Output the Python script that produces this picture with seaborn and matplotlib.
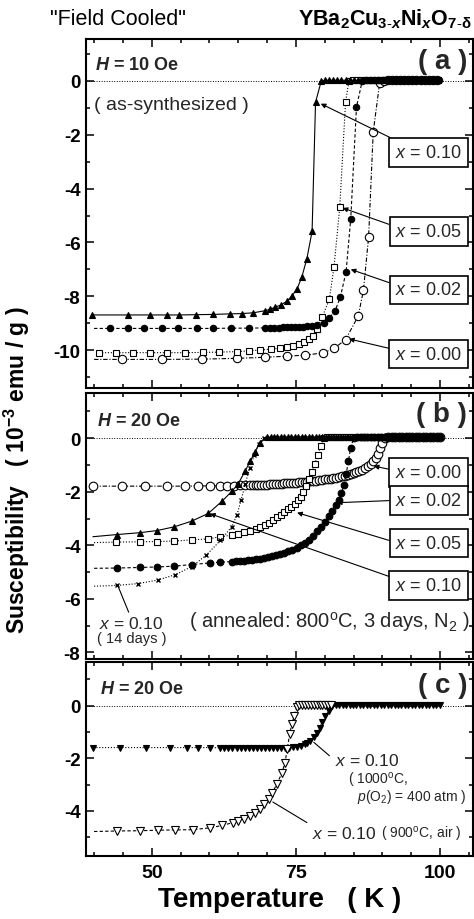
import matplotlib
matplotlib.use("Agg")
import matplotlib.pyplot as plt
import seaborn as sns
from matplotlib.ticker import MultipleLocator

# ---------------- data ----------------
# panel (a): as-synthesized, H = 10 Oe
A10_T = [39.6, 45.8, 49.7, 52.7, 54.8, 57.7, 60.6, 63.6, 65.6, 67.6,
         69.7, 70.5, 71.4, 72.4, 73.5, 74.3, 75.2, 76.0, 76.9, 77.8,
         78.4, 79.4,
         80.1, 80.8, 81.5, 82.2, 82.9, 83.6, 84.3, 85.0, 85.7, 86.4,
         87.1, 87.8, 88.5, 89.2, 89.9, 90.6, 91.3, 92.0, 92.7, 93.4,
         94.1, 94.8, 95.5, 96.2, 96.9, 97.6, 98.3, 99.0, 99.7]
A10_CHI = [-8.69, -8.69, -8.69, -8.69, -8.69, -8.68, -8.67, -8.65, -8.64, -8.61,
           -8.53, -8.48, -8.40, -8.32, -8.17, -7.98, -7.72, -7.30, -6.60, -5.59,
           -0.80, 0.00,
           0.02, 0.02, 0.02, 0.02, 0.02, 0.02, 0.02, 0.02, 0.02, 0.02,
           0.02, 0.02, 0.02, 0.02, 0.02, 0.02, 0.02, 0.02, 0.02, 0.02,
           0.02, 0.02, 0.02, 0.02, 0.02, 0.02, 0.02, 0.02, 0.02]

A05_T = [40.9, 43.8, 46.8, 49.7, 52.7, 55.8, 58.9, 61.7, 64.8, 66.8,
         68.8, 70.7, 72.2, 73.4, 74.5, 75.5, 76.4, 77.2, 78.0, 78.7,
         79.6, 80.8, 81.6, 82.6, 83.6, 84.2,
         84.9, 85.6, 86.3, 87.0, 87.7, 88.4, 89.1, 89.8, 90.5, 91.2,
         91.9, 92.6, 93.3, 94.0, 94.7, 95.4, 96.1, 96.8, 97.5, 98.2,
         98.9, 99.6]
A05_CHI = [-10.09, -10.09, -10.09, -10.09, -10.09, -10.09, -10.08, -10.07, -10.05, -10.02,
           -9.99, -9.96, -9.92, -9.88, -9.83, -9.77, -9.69, -9.60, -9.46, -9.22,
           -8.75, -8.10, -6.91, -4.68, -0.80, 0.00,
           0.02, 0.02, 0.02, 0.02, 0.02, 0.02, 0.02, 0.02, 0.02, 0.02,
           0.02, 0.02, 0.02, 0.02, 0.02, 0.02, 0.02, 0.02, 0.02, 0.02,
           0.02, 0.02]

A02_T = [40.0, 42.7, 45.8, 48.7, 51.7, 54.6, 57.8, 60.7, 63.7, 66.8,
         69.7, 70.5, 71.2, 72.0, 72.7, 73.4, 74.1, 74.8, 75.5, 76.2,
         77.0, 77.8, 78.7, 79.8, 80.8, 81.8, 82.7, 83.7, 84.5, 85.5,
         86.5,
         87.2, 87.9, 88.6, 89.3, 90.0, 90.7, 91.4, 92.1, 92.8, 93.5,
         94.2, 94.9, 95.6, 96.3, 97.0, 97.7, 98.4, 99.1, 99.8]
A02_CHI = [-9.19, -9.19, -9.19, -9.19, -9.19, -9.19, -9.19, -9.19, -9.18, -9.18,
           -9.17, -9.17, -9.16, -9.16, -9.15, -9.15, -9.14, -9.14, -9.13, -9.12,
           -9.11, -9.10, -9.08, -9.00, -8.81, -8.53, -8.03, -7.08, -5.13, -0.97,
           0.00,
           0.02, 0.02, 0.02, 0.02, 0.02, 0.02, 0.02, 0.02, 0.02, 0.02,
           0.02, 0.02, 0.02, 0.02, 0.02, 0.02, 0.02, 0.02, 0.02]

A00_T = [40.0, 44.8, 51.7, 58.7, 64.8, 69.7, 73.5, 76.6, 79.7, 81.6,
         83.6, 85.8, 86.7, 87.6, 88.4, 89.5, 90.3,
         91.0, 91.7, 92.4, 93.1, 93.8, 94.5, 95.2, 95.9, 96.6, 97.3,
         98.0, 98.7, 99.4]
A00_CHI = [-10.34, -10.34, -10.34, -10.33, -10.30, -10.26, -10.22, -10.18, -10.10, -9.93,
           -9.61, -8.73, -7.78, -5.80, -1.90, -0.10, 0.00,
           0.02, 0.02, 0.02, 0.02, 0.02, 0.02, 0.02, 0.02, 0.02, 0.02,
           0.02, 0.02, 0.02]

# panel (b): annealed 800 C, 3 days, N2, H = 20 Oe
B00_T = [39.9, 44.8, 48.8, 52.6, 55.8, 58.1, 60.1, 61.9, 63.0, 64.2,
         65.3, 66.2, 67.0, 67.5, 68.0, 68.5, 69.0, 69.5, 70.0, 70.5,
         71.0, 71.5, 72.0, 72.5, 73.0, 73.5, 74.0, 74.5, 75.0, 75.5,
         76.0, 76.5, 77.0, 77.5, 78.0, 78.5, 79.0, 79.5, 80.0, 80.5,
         81.0, 81.5, 82.0, 82.5, 83.0, 83.5, 84.0, 84.5, 85.0, 85.5,
         86.0, 86.5, 87.0, 87.5, 88.0, 88.4, 88.8, 89.2, 89.6, 90.0,
         90.4,
         91.0, 91.6, 92.2, 92.8, 93.4, 94.0, 94.6, 95.2, 95.8, 96.4,
         97.0, 97.6, 98.2, 98.8, 99.4, 100.0]
B00_CHI = [-1.79, -1.79, -1.79, -1.79, -1.79, -1.78, -1.78, -1.78, -1.77, -1.77,
           -1.76, -1.76, -1.75, -1.75, -1.75, -1.74, -1.74, -1.73, -1.73, -1.72,
           -1.72, -1.71, -1.71, -1.70, -1.69, -1.68, -1.68, -1.67, -1.66, -1.65,
           -1.64, -1.63, -1.62, -1.61, -1.60, -1.59, -1.57, -1.56, -1.54, -1.53,
           -1.51, -1.49, -1.47, -1.45, -1.42, -1.40, -1.37, -1.34, -1.31, -1.27,
           -1.23, -1.18, -1.12, -1.05, -0.96, -0.86, -0.74, -0.58, -0.38, -0.16,
           0.00,
           0.04, 0.04, 0.04, 0.04, 0.04, 0.04, 0.04, 0.04, 0.04, 0.04,
           0.04, 0.04, 0.04, 0.04, 0.04, 0.04]

B05_T = [40.0, 43.8, 47.9, 50.9, 53.9, 56.9, 59.8, 61.9, 63.9, 65.0,
         66.0, 67.0, 68.0, 68.8, 69.6, 70.3, 71.0, 71.7, 72.4, 73.0,
         73.6, 74.2, 74.8, 75.3, 75.8, 76.3, 76.8, 77.3, 77.8, 78.3,
         78.8, 79.3, 79.8,
         80.4, 81.0, 81.6, 82.2, 82.8, 83.4, 84.0, 84.6, 85.2, 85.8,
         86.4, 87.0, 87.6, 88.2, 88.8, 89.4, 90.0, 90.6, 91.2, 91.8,
         92.4, 93.0, 93.6, 94.2, 94.8, 95.4, 96.0, 96.6, 97.2, 97.8,
         98.4, 99.0, 99.6]
B05_CHI = [-3.90, -3.88, -3.87, -3.86, -3.84, -3.80, -3.76, -3.68, -3.62, -3.57,
           -3.52, -3.46, -3.40, -3.33, -3.25, -3.15, -3.06, -2.96, -2.86, -2.76,
           -2.66, -2.56, -2.44, -2.32, -2.18, -2.00, -1.78, -1.52, -1.25, -0.95,
           -0.62, -0.28, 0.00,
           0.04, 0.04, 0.04, 0.04, 0.04, 0.04, 0.04, 0.04, 0.04, 0.04,
           0.04, 0.04, 0.04, 0.04, 0.04, 0.04, 0.04, 0.04, 0.04, 0.04,
           0.04, 0.04, 0.04, 0.04, 0.04, 0.04, 0.04, 0.04, 0.04, 0.04,
           0.04, 0.04, 0.04]

B02_T = [40.0, 43.9, 47.9, 50.9, 53.9, 56.9, 60.1, 61.9, 63.9, 64.6,
         65.3, 66.0, 66.7, 67.4, 68.1, 68.8, 69.5, 70.2, 70.9, 71.6,
         72.3, 73.0, 73.7, 74.4, 75.1, 75.8, 76.5, 77.2, 77.9, 78.6,
         79.3, 80.0, 80.7, 81.3, 81.9, 82.4, 82.9, 83.3, 83.7, 84.1,
         84.5, 85.0,
         85.6, 86.2, 86.8, 87.4, 88.0, 88.6, 89.2, 89.8, 90.4, 91.0,
         91.6, 92.2, 92.8, 93.4, 94.0, 94.6, 95.2, 95.8, 96.4, 97.0,
         97.6, 98.2, 98.8, 99.4, 100.0]
B02_CHI = [-4.86, -4.85, -4.83, -4.81, -4.78, -4.72, -4.66, -4.63, -4.61, -4.60,
           -4.59, -4.57, -4.56, -4.54, -4.52, -4.50, -4.47, -4.44, -4.41, -4.37,
           -4.33, -4.28, -4.22, -4.16, -4.09, -4.00, -3.91, -3.80, -3.64, -3.48,
           -3.32, -3.12, -2.92, -2.72, -2.50, -2.30, -2.05, -1.75, -1.35, -0.85,
           -0.35, 0.00,
           0.04, 0.04, 0.04, 0.04, 0.04, 0.04, 0.04, 0.04, 0.04, 0.04,
           0.04, 0.04, 0.04, 0.04, 0.04, 0.04, 0.04, 0.04, 0.04, 0.04,
           0.04, 0.04, 0.04, 0.04, 0.04]

B10_T = [39.8, 43.9, 47.9, 50.9, 53.9, 56.9, 59.8, 62.2, 63.9, 65.0,
         66.2, 67.1, 67.9, 68.8, 70.0,
         70.6, 71.2, 71.8, 72.4, 73.0, 73.6, 74.2, 74.8, 75.4, 76.0,
         76.6, 77.2, 77.8, 78.4, 79.0, 79.6, 80.2, 80.8, 81.4, 82.0,
         82.6, 83.2, 83.8, 84.4, 85.0, 85.6, 86.2, 86.8, 87.4, 88.0,
         88.6, 89.2, 89.8, 90.4, 91.0, 91.6, 92.2, 92.8, 93.4, 94.0,
         94.6, 95.2, 95.8, 96.4, 97.0, 97.6, 98.2, 98.8, 99.4, 100.0]
B10_CHI = [-3.68, -3.60, -3.53, -3.45, -3.31, -3.10, -2.81, -2.35, -1.98, -1.70,
           -1.22, -0.85, -0.50, -0.16, 0.03,
           0.05, 0.05, 0.05, 0.05, 0.05, 0.05, 0.05, 0.05, 0.05, 0.05,
           0.05, 0.05, 0.05, 0.05, 0.05, 0.05, 0.05, 0.05, 0.05, 0.05,
           0.05, 0.05, 0.05, 0.05, 0.05, 0.05, 0.05, 0.05, 0.05, 0.05,
           0.05, 0.05, 0.05, 0.05, 0.05, 0.05, 0.05, 0.05, 0.05, 0.05,
           0.05, 0.05, 0.05, 0.05, 0.05, 0.05, 0.05, 0.05, 0.05, 0.05]

B14_T = [40.0, 43.9, 47.7, 51.0, 54.1, 56.9, 59.4, 61.9, 63.9, 64.8,
         65.5, 66.2, 67.0, 67.8, 68.6, 69.4]
B14_CHI = [-5.53, -5.50, -5.43, -5.30, -5.10, -4.80, -4.38, -3.82, -3.30, -2.85,
           -2.30, -1.72, -1.10, -0.62, -0.20, 0.00]

# panel (c): x = 0.10, different anneals, H = 20 Oe
C1000_T = [39.9, 44.5, 49.0, 53.2, 56.1, 58.1, 60.1, 61.9, 62.6, 63.3,
           64.0, 64.7, 65.4, 66.1, 66.8, 67.5, 68.2, 68.9, 69.6, 70.3,
           71.0, 71.7, 72.4, 73.1, 73.8, 74.5, 75.2, 75.8, 76.5, 77.0,
           77.5, 78.1, 78.6, 79.1, 79.5, 80.1, 80.7, 81.3,
           81.9, 82.5, 83.1, 83.7, 84.3, 84.9, 85.5, 86.1, 86.7, 87.3,
           87.9, 88.5, 89.1, 89.7, 90.3, 90.9, 91.5, 92.1, 92.7, 93.3,
           93.9, 94.5, 95.1, 95.7, 96.3, 96.9, 97.5, 98.1, 98.7, 99.3,
           99.9]
C1000_CHI = [-1.59, -1.59, -1.59, -1.59, -1.59, -1.59, -1.59, -1.60, -1.60, -1.60,
             -1.60, -1.60, -1.60, -1.60, -1.60, -1.60, -1.60, -1.60, -1.60, -1.60,
             -1.60, -1.60, -1.60, -1.60, -1.59, -1.58, -1.56, -1.53, -1.47, -1.41,
             -1.33, -1.20, -1.03, -0.85, -0.63, -0.38, -0.19, 0.00,
             0.03, 0.03, 0.03, 0.03, 0.03, 0.03, 0.03, 0.03, 0.03, 0.03,
             0.03, 0.03, 0.03, 0.03, 0.03, 0.03, 0.03, 0.03, 0.03, 0.03,
             0.03, 0.03, 0.03, 0.03, 0.03, 0.03, 0.03, 0.03, 0.03, 0.03,
             0.03]

C900_T = [40.0, 43.9, 48.0, 51.0, 54.1, 57.1, 60.1, 62.2, 64.1, 65.0,
          66.0, 67.0, 67.9, 68.8, 69.5, 70.3, 70.9, 71.7, 72.6, 73.1,
          73.5, 73.9, 74.3, 74.7, 75.1,
          75.6, 76.1, 76.6, 77.1, 77.6, 78.1, 78.6, 79.1, 79.6, 80.1,
          80.6, 81.1]
C900_CHI = [-4.78, -4.76, -4.75, -4.73, -4.72, -4.71, -4.64, -4.55, -4.44, -4.38,
            -4.32, -4.19, -4.06, -3.91, -3.75, -3.55, -3.30, -2.98, -2.54, -2.16,
            -1.65, -1.08, -0.70, -0.38, -0.06,
            0.03, 0.03, 0.03, 0.03, 0.03, 0.03, 0.03, 0.03, 0.03, 0.03,
            0.03, 0.03]

BOX_LABELS = ["0.10", "0.05", "0.02", "0.00"]

# ---------------- style ----------------
sns.set_theme(style="ticks")
plt.rcParams["font.family"] = ["Liberation Sans", "DejaVu Sans"]
plt.rcParams["mathtext.fontset"] = "custom"
plt.rcParams["mathtext.rm"] = "Liberation Sans"
plt.rcParams["mathtext.it"] = "Liberation Sans:italic"
plt.rcParams["mathtext.bf"] = "Liberation Sans:bold"
plt.rcParams["mathtext.bfit"] = "Liberation Sans:bold:italic"
plt.rcParams["axes.unicode_minus"] = False

DOT = (0, (1, 1.6))
DASH = (0, (3, 2))
DASHDOT = (0, (4, 1.6, 1, 1.6))
K = "black"

fig = plt.figure(figsize=(4.74, 9.2), dpi=100)
ax_a = fig.add_axes([0.1814, 0.5772, 0.8165, 0.3793])
ax_b = fig.add_axes([0.1814, 0.2826, 0.8165, 0.2891])
ax_c = fig.add_axes([0.1814, 0.0685, 0.8165, 0.2108])


def curve(ax, T, chi, marker, ls, ms, fill, skip_first=False, mew=0.8, z=2):
    kw = dict(markevery=slice(1, None)) if skip_first else {}
    sns.lineplot(x=T, y=chi, ax=ax, sort=False, estimator=None, legend=False,
                 color=K, linestyle=ls, linewidth=0.8, marker=marker,
                 markersize=ms, markerfacecolor=fill, markeredgecolor=K,
                 markeredgewidth=mew, zorder=z, **kw)


def box(ax, text, xy, xytext, relpos):
    ax.annotate(r"$\it{x}$ = " + text, xy=xy, xytext=xytext, ha="center", va="center",
                fontsize=13, zorder=6,
                bbox=dict(boxstyle="square,pad=0.32", fc="white", ec=K, lw=1.2),
                arrowprops=dict(arrowstyle="-|>", color=K, lw=0.8, mutation_scale=7,
                                shrinkA=0, shrinkB=0, relpos=relpos))


def plain(ax, xy, xytext):
    ax.annotate("", xy=xy, xytext=xytext,
                arrowprops=dict(arrowstyle="-", color=K, lw=0.8, shrinkA=0, shrinkB=0))


# ---------------- panel (a) ----------------
ax_a.axhline(0, color=K, ls=DOT, lw=0.7, zorder=0)
curve(ax_a, A00_T, A00_CHI, "o", DASHDOT, 6.0, "white", skip_first=True)
curve(ax_a, A05_T, A05_CHI, "s", DOT, 4.5, "white", z=3)
curve(ax_a, A02_T, A02_CHI, "o", DASH, 4.6, K, skip_first=True, z=3)
curve(ax_a, A10_T, A10_CHI, "^", "-", 4.8, K, z=4)
ax_a.set_ylim(-11.4, 1.55)
ax_a.text(40.2, 0.62, r"$\mathbfit{H}$ = 10 Oe", fontsize=13, fontweight="bold", va="center")
ax_a.text(40.0, -0.87, "( as-synthesized )", fontsize=14, va="center")
ax_a.text(104.7, 0.73, "( a )", fontsize=20, fontweight="bold", ha="right", va="center")
box(ax_a, BOX_LABELS[0], (79.3, -0.85), (98.0, -2.66), (0.12, 1.0))
box(ax_a, BOX_LABELS[1], (83.1, -4.72), (98.0, -5.60), (0.0, 0.8))
box(ax_a, BOX_LABELS[2], (84.5, -7.00), (98.0, -7.76), (0.0, 0.8))
box(ax_a, BOX_LABELS[3], (84.2, -9.58), (98.0, -10.14), (0.0, 0.75))

# ---------------- panel (b) ----------------
ax_b.axhline(0, color=K, ls=DOT, lw=0.7, zorder=0)
curve(ax_b, B00_T, B00_CHI, "o", DASHDOT, 6.2, "white")
curve(ax_b, B05_T, B05_CHI, "s", DOT, 4.6, "white", skip_first=True, z=3)
curve(ax_b, B02_T, B02_CHI, "o", DASH, 4.8, K, skip_first=True, z=3)
curve(ax_b, B14_T, B14_CHI, "x", DOT, 3.2, K, skip_first=True, mew=1.0, z=3)
curve(ax_b, B10_T, B10_CHI, "^", "-", 4.8, K, skip_first=True, z=4)
ax_b.set_ylim(-8.25, 1.69)
ax_b.text(40.5, 0.65, r"$\mathbfit{H}$ = 20 Oe", fontsize=13, fontweight="bold", va="center")
ax_b.text(104.7, 0.90, "( b )", fontsize=20, fontweight="bold", ha="right", va="center")
box(ax_b, BOX_LABELS[3], (88.5, -1.04), (98.0, -1.27), (0.0, 0.6))
box(ax_b, BOX_LABELS[2], (82.1, -2.41), (98.0, -2.32), (0.0, 0.5))
box(ax_b, BOX_LABELS[1], (75.2, -2.78), (98.0, -3.92), (0.0, 0.55))
box(ax_b, BOX_LABELS[0], (60.1, -2.82), (98.0, -5.50), (0.0, 0.9))
ax_b.text(46.4, -6.90, r"$\it{x}$ = 0.10", fontsize=12.5, ha="center", va="center")
ax_b.text(46.5, -7.45, "( 14 days )", fontsize=10.5, ha="center", va="center")
plain(ax_b, (44.2, -5.55), (46.0, -6.50))
ax_b.text(105.2, -6.84, r"( annealed: 800$^{\rm o}$C, 3 days, N$_2$ )", fontsize=14.5,
          ha="right", va="center")

# ---------------- panel (c) ----------------
ax_c.axhline(0, color=K, ls=DOT, lw=0.7, zorder=0)
curve(ax_c, C1000_T, C1000_CHI, "v", DOT, 4.8, K)
curve(ax_c, C900_T, C900_CHI, "v", DASH, 5.2, "white", skip_first=True, z=3)
ax_c.set_ylim(-5.71, 1.66)
ax_c.text(41.0, 0.66, r"$\mathbfit{H}$ = 20 Oe", fontsize=13, fontweight="bold", va="center")
ax_c.text(104.7, 0.79, "( c )", fontsize=20, fontweight="bold", ha="right", va="center")
ax_c.text(81.8, -2.08, r"$\it{x}$ = 0.10", fontsize=12.5, va="center")
ax_c.text(84.0, -2.80, r"( 1000$^{\rm o}$C,", fontsize=10, va="center")
ax_c.text(85.6, -3.44, r"$\it{p}$(O$_2$) = 400 atm )", fontsize=10, va="center")
plain(ax_c, (78.1, -1.39), (80.8, -1.90))
ax_c.text(77.8, -4.85, r"$\it{x}$ = 0.10", fontsize=12.5, va="center")
ax_c.text(89.7, -4.85, r"( 900$^{\rm o}$C, air )", fontsize=10, va="center")
plain(ax_c, (71.0, -3.66), (76.9, -4.44))

# ---------------- axes cosmetics ----------------
for ax in (ax_a, ax_b, ax_c):
    ax.set_xlim(38.6, 105.7)
    ax.xaxis.set_major_locator(MultipleLocator(25))
    ax.xaxis.set_minor_locator(MultipleLocator(5))
    ax.yaxis.set_major_locator(MultipleLocator(2))
    ax.yaxis.set_minor_locator(MultipleLocator(1))
    ax.tick_params(which="both", direction="in", top=True, right=True, width=1.1,
                   color=K, labelcolor=K)
    ax.tick_params(which="major", length=6, labelsize=13.5, pad=4)
    ax.tick_params(which="minor", length=3)
    for lab in ax.get_yticklabels():
        lab.set_fontweight("bold")
    for sp in ax.spines.values():
        sp.set_linewidth(1.5)
        sp.set_color(K)
    ax.set_xlabel("")
    ax.set_ylabel("")

ax_a.tick_params(labelbottom=False)
ax_b.tick_params(labelbottom=False)
ax_c.tick_params(axis="x", labelsize=14, pad=6)
for lab in ax_c.get_xticklabels():
    lab.set_fontweight("bold")

fig.text(0.105, 0.979, '"Field Cooled"', fontsize=15.5, va="center", color=K)
fig.text(0.995, 0.979,
         r"$\mathbf{YBa_{2}Cu_{3\text{-}\mathbfit{x}}Ni_{\mathbfit{x}}O_{7\text{-}\delta}}$",
         fontsize=15.5, ha="right", va="center", color=K)
fig.text(0.036, 0.489, r"Susceptibility   ( 10$^{\mathbf{-3}}$ emu / g )", fontsize=16.5,
         fontweight="bold", rotation=90, ha="center", va="center", color=K)
fig.text(0.59, 0.022, "Temperature   ( K )", fontsize=20, fontweight="bold",
         ha="center", va="center", color=K)

fig.savefig("out.png", dpi=100)
